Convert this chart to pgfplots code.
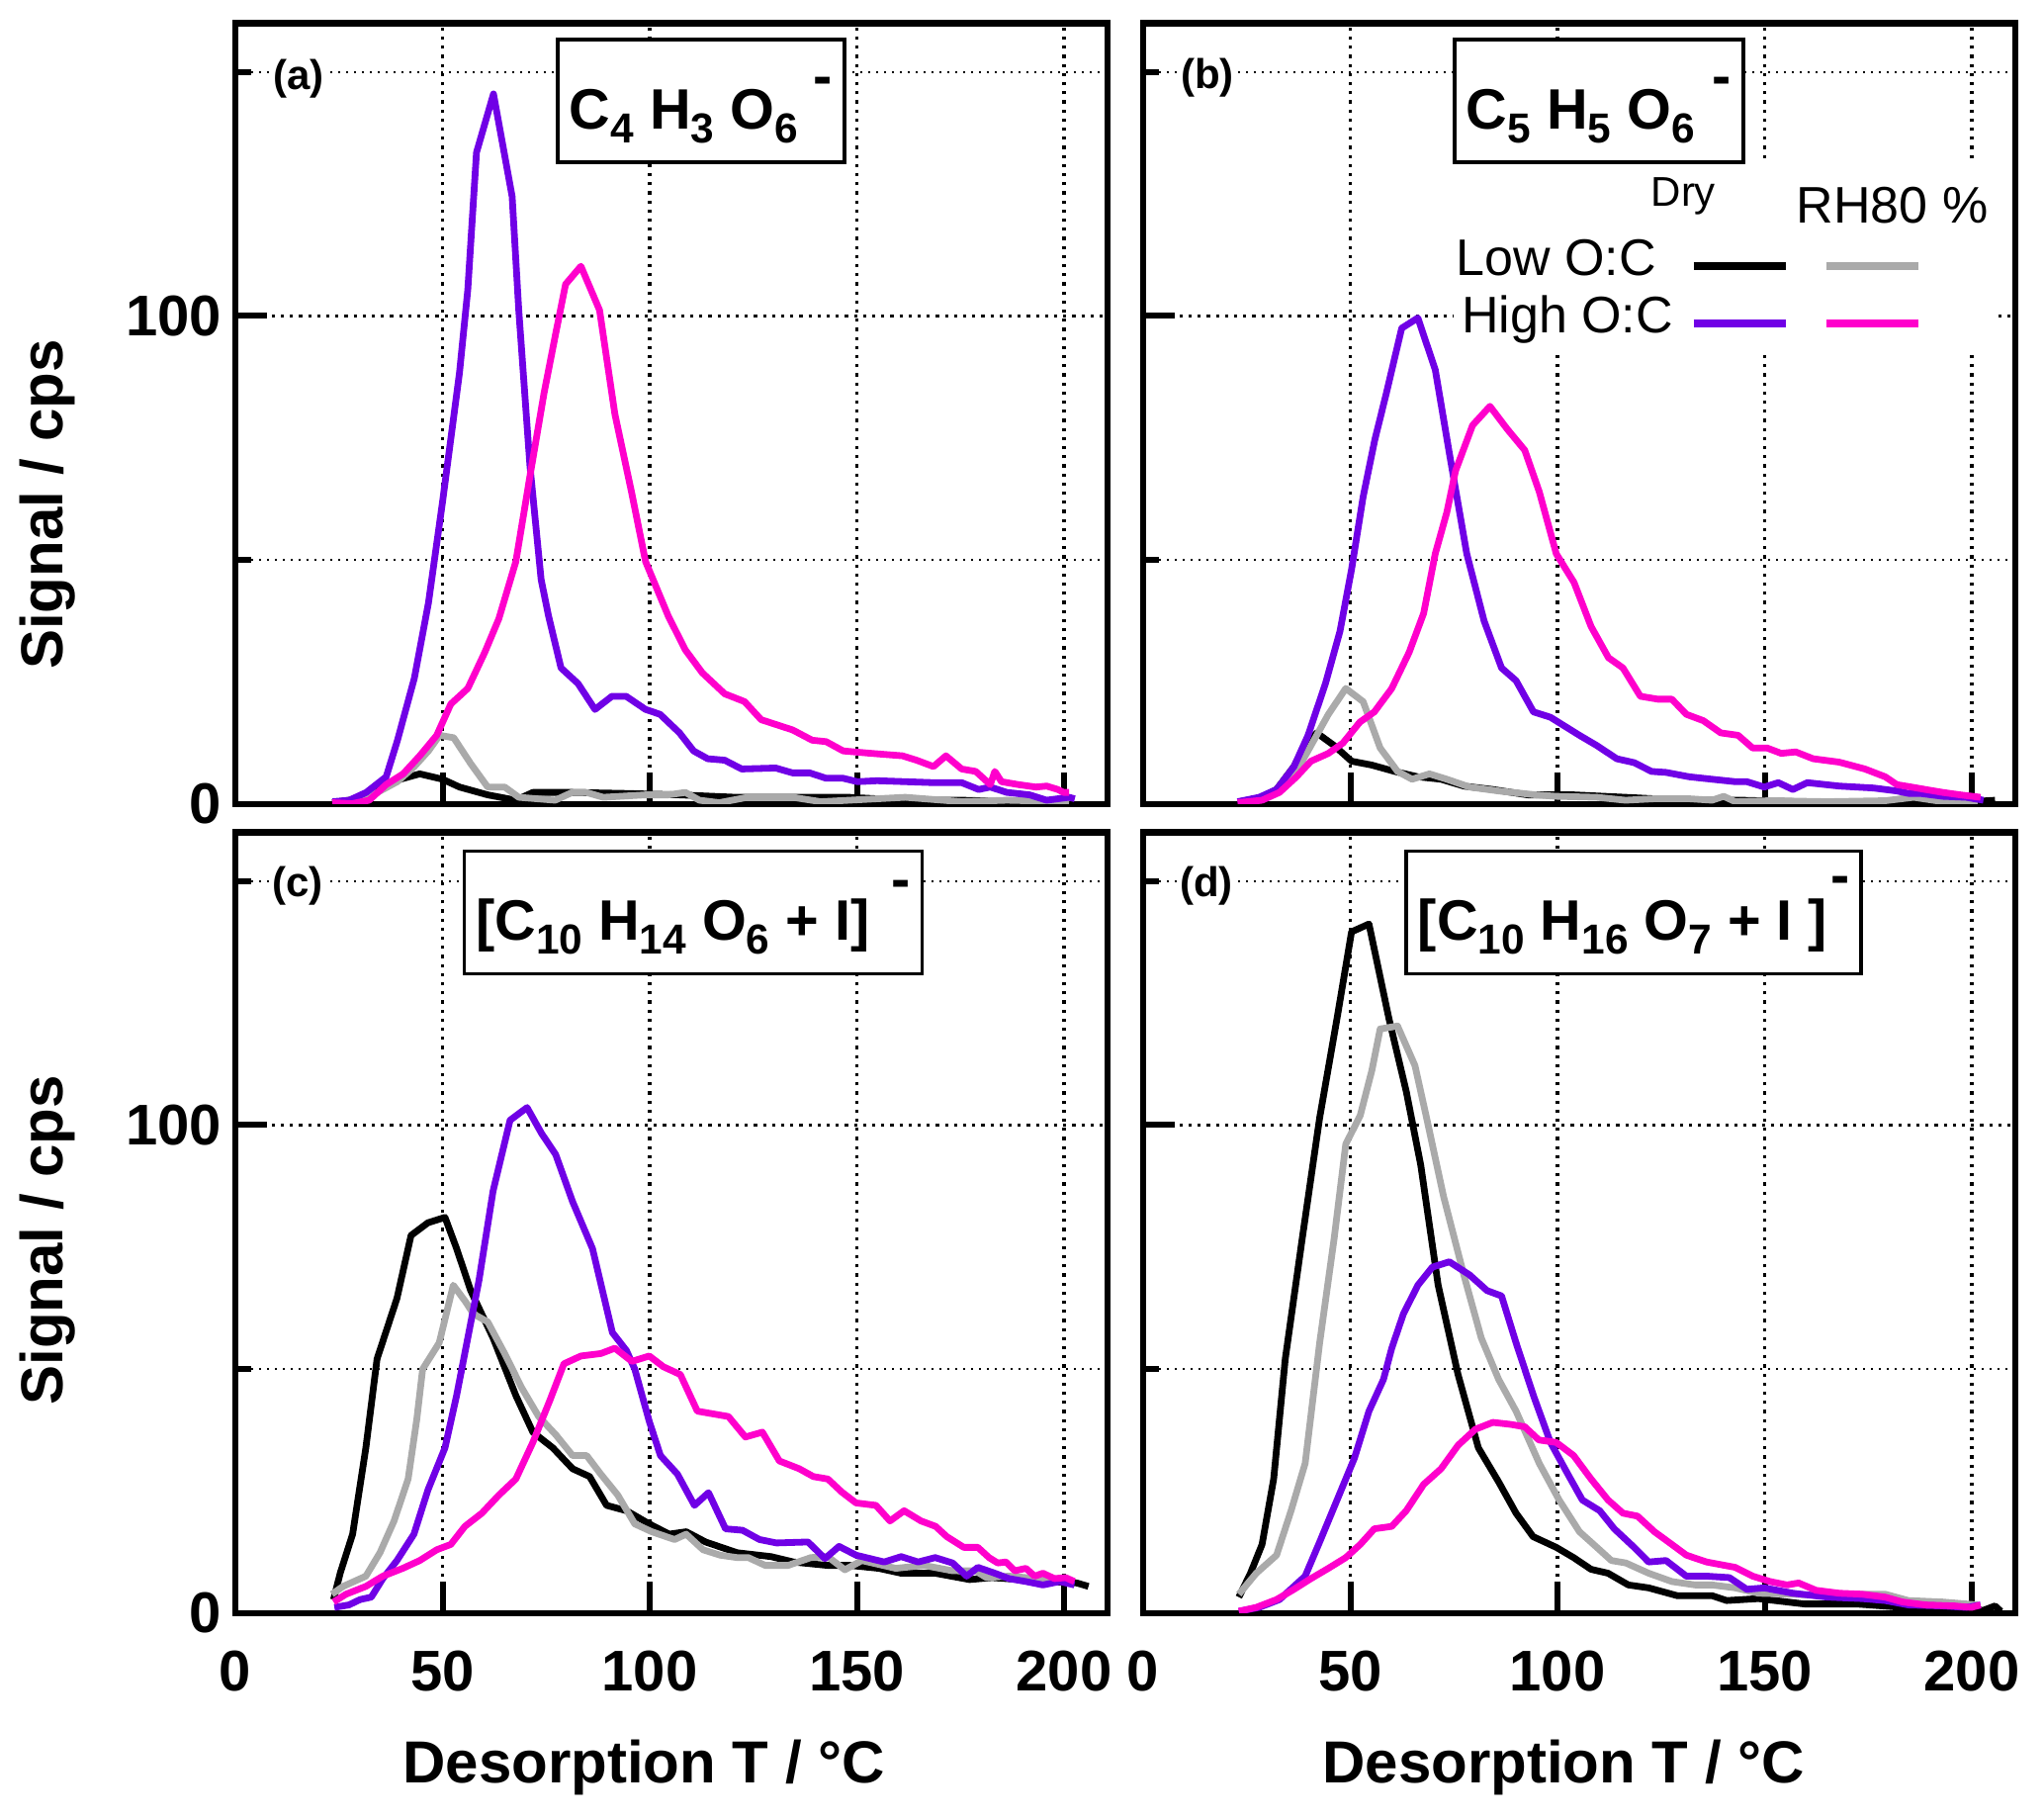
\documentclass[border=0pt]{standalone}
\usepackage{pgfplots}
\pgfplotsset{compat=1.18}
\usepackage{fontspec}
\setmainfont{Liberation Sans}
\definecolor{cpur}{RGB}{112,0,230}
\definecolor{cmag}{RGB}{255,0,204}
\definecolor{cgry}{RGB}{170,170,170}
\newcommand{\sbs}[1]{\raisebox{-3.6pt}{\fontsize{10.6}{12}\selectfont #1}}
\newcommand{\chg}[2]{\hspace{#1}\raisebox{#2}{-}}
\newcommand{\tstrut}{\rule[-8.5pt]{0pt}{31pt}}
\pgfplotsset{
  panel/.style={
    scale only axis, width=220.5pt, height=197.4pt,
    xmin=0, xmax=210.5, ymin=0, ymax=160,
    xtick={0,50,100,150,200}, ytick={0,100}, minor ytick={50,150},
    tick pos=left, tick align=inside,
    major tick length=8pt, minor tick length=4pt,
    tick style={black, line width=1.5pt},
    axis line style={black, line width=1.6pt},
    grid=both,
    major grid style={black, line width=0.8pt, dash pattern=on 0.8pt off 1.5pt},
    minor grid style={black, line width=0.5pt, dash pattern=on 0.6pt off 1.4pt},
    /pgf/number format/assume math mode=true,
    ticklabel style={font=\bfseries\fontsize{14.5}{15}\selectfont},
    xticklabel style={anchor=center, yshift=-14.75pt},
    label style={font=\bfseries\fontsize{15}{16}\selectfont},
    every axis plot/.append style={line width=1.7pt, line join=round},
  },
}
\tikzset{
  titlebox/.style={draw=black, line width=0.9pt, fill=white, inner xsep=3pt, inner ysep=0pt,
    font=\bfseries\fontsize{14.4}{16}\selectfont, anchor=center},
  plab/.style={font=\bfseries\fontsize{10.5}{11}\selectfont, fill=white, inner sep=0.5pt},
}
\begin{document}
\begin{tikzpicture}
\path[use as bounding box] (0,0) rectangle (516.75pt,459.75pt);

% ---------------- (a)
\begin{axis}[panel, at={(59.5pt,256.5pt)}, anchor=south west, xticklabels={},
  ylabel={Signal / cps}, ylabel style={at={(axis description cs:-0.2154,0.3837)}, anchor=center}]
\addplot[black] coordinates {(23.4,0.3)(32.3,1.4)(37.7,4.6)(44.5,6.2)(50,5.1)(54.1,3.5)(60.9,1.9)(67.7,0.8)(71.8,2.4)(81.3,2.4)(93.6,2.2)(107.2,1.9)(120.8,1.4)(134.5,1.4)(148.1,1.4)(161.7,0.8)(175.3,0.8)(188.9,0.5)(201.2,0.5)};
\addplot[cgry] coordinates {(23.4,0.3)(29.6,0.8)(34.3,2.4)(39.1,4.6)(43.2,7.7)(46.6,10.9)(49.3,14.1)(52.7,13.6)(56.8,8.3)(60.9,3.5)(65,3.5)(68.4,1.4)(77.2,0.8)(81.3,2.4)(84.7,2.4)(88.8,1.4)(99,1.9)(104.5,1.9)(108.6,2.4)(112,0.8)(116.8,0.3)(123.6,1.4)(134.5,1.4)(141.3,0.5)(148.1,0.8)(161.7,1.4)(175.3,0.5)(186.2,0.8)(201.2,0.5)};
\addplot[cpur] coordinates {(23.4,0.5)(27.5,0.8)(31.6,2.4)(36.4,5.6)(39.1,13)(43.2,25.8)(46.6,41.2)(50,61.9)(54.1,88.4)(56.1,105.4)(58.2,133.5)(62.3,145.5)(66.8,124.5)(68.4,101.2)(71.1,69.3)(73.8,46)(75.6,38.5)(78.6,27.9)(82.7,24.7)(86.8,19.4)(90.9,22.1)(94.3,22.1)(99,19.4)(102.5,18.4)(107.2,14.6)(110.6,10.9)(114,9.3)(118.1,9)(122.2,7.2)(130.4,7.4)(134.5,6.4)(138.6,6.4)(142.6,5.3)(146.7,5.3)(150.1,4.6)(154.9,4.8)(161.7,4.6)(168.5,4.4)(175.3,4.4)(179.4,3)(182.2,3.5)(186.2,2.4)(191.7,1.9)(195.8,0.8)(201.2,1.4)(202.6,1.1)};
\addplot[cmag] coordinates {(23.4,0.3)(28.2,0.1)(32.3,0.8)(36.4,4)(40.5,6.2)(44.5,9.9)(48.6,14.1)(52,20.5)(56.1,23.7)(60.2,31.1)(63.6,38)(67.7,49.7)(71.1,67.2)(74.5,84.2)(77.2,95.9)(79.7,106.5)(83.4,110.2)(87.9,101.2)(91.6,79.9)(95.6,64)(99,49.7)(104.5,38.5)(108.6,31.6)(112.7,26.9)(118.1,22.6)(122.9,21)(126.9,17.3)(134.5,15.2)(139.2,13.1)(142.6,12.8)(146.7,10.9)(153.5,10.4)(161,9.9)(164.4,9)(168.5,7.7)(171.5,9.9)(175.3,7.2)(178.7,6.7)(182.2,4)(183.3,6.7)(184.9,4.6)(189,4)(193.2,3.5)(195.8,3.7)(198.5,3)(199.9,2.4)(201.2,2.4)};
\node[plab] at (axis cs:15.2,148.6) {(a)};
\node[titlebox] at (axis cs:112.4,144.05) {\tstrut C\sbs{4} H\sbs{3} O\sbs{6}\chg{4pt}{8.3pt}};
\end{axis}

% ---------------- (b)
\begin{axis}[panel, at={(289pt,256.5pt)}, anchor=south west, xticklabels={}, yticklabels={}]
\fill[white] (axis cs:75,92.6) rectangle (axis cs:205.5,131.5);
\addplot[black] coordinates {(23.1,0.3)(28,1.1)(32.2,3)(36.4,7.7)(39.1,12)(41.9,14.6)(46.1,12)(50.3,8.8)(55.2,8)(60.7,6.7)(66.3,5.6)(71.9,5.1)(77.4,3.7)(84.4,3)(92.8,1.9)(103.9,1.9)(116.4,1.4)(130.4,0.8)(144.3,0.8)(158.2,0.5)(172.1,0.5)(186,0.5)(200,0.5)(205.6,0.8)};
\addplot[cgry] coordinates {(23.1,0.3)(28,0.8)(32.9,3)(37,6.7)(40.5,12)(44.7,18.4)(48.9,23.7)(53.1,21)(57.2,11.5)(61.4,6.7)(64.9,5.1)(69.1,6.2)(73.3,5.1)(78.8,3.5)(85.8,2.7)(94.8,1.9)(99.7,1.6)(109.5,1.4)(116.4,0.8)(123.4,1.1)(131.8,1.1)(137.3,0.8)(140.1,1.6)(142.9,0.5)(151.3,0.7)(165.2,0.5)(179.1,0.7)(186,1.4)(193,0.5)(201.4,0.5)};
\addplot[cpur] coordinates {(22.8,0.5)(28,1.4)(32.2,3)(36.4,7.7)(39.8,14.1)(44,24.7)(47.5,35.4)(50.3,48.1)(53.1,63)(55.9,74.6)(58.7,84.2)(62.4,97.5)(66.3,99.6)(70.5,89)(74,71.4)(78.1,51.3)(82.3,37.5)(86.5,27.9)(90,25.3)(94.2,18.9)(98.3,17.8)(105.3,14.1)(109.5,12)(114.3,9.3)(118.5,8.5)(122.7,6.7)(126.2,6.5)(131.8,5.6)(137.3,5.1)(142.9,4.6)(145.7,4.6)(149.9,3.5)(153.3,4.4)(156.8,3)(160.3,4.4)(168,3.7)(176.3,3.3)(181.9,2.7)(184.7,2.2)(187.5,2.2)(193,1.6)(198.6,1.4)(202.8,0.8)};
\addplot[cmag] coordinates {(22.8,0.3)(28.7,0.8)(32.9,2.4)(37,5.6)(40.5,8.8)(44.7,10.4)(48.2,12.5)(52.3,16.8)(55.8,18.9)(60,23.7)(64.2,31.1)(67.7,39.1)(70.5,51.3)(73.3,59.8)(75.4,68.3)(79.5,77.6)(83.7,81.5)(87.9,76.8)(92.1,72.5)(95.6,64)(99.7,51.3)(104,45.4)(108.1,36.4)(112.3,30)(115.8,27.9)(120,22.1)(124.2,21.5)(127.6,21.5)(131.1,18.4)(135.2,17.1)(139.4,14.6)(143.6,14.1)(147.1,11.5)(150.6,11.5)(154,10.4)(157.5,10.7)(161.7,9.3)(168,8.6)(174.2,7.2)(179.1,5.6)(181.9,4)(185.4,3.5)(188.8,3)(193,2.4)(197.2,1.9)(202.1,1.4)};
% legend
\addplot[black, line width=1.9pt, forget plot] coordinates {(132.9,110.2)(155.2,110.2)};
\addplot[cgry, line width=1.9pt, forget plot] coordinates {(164.9,110.2)(187.2,110.2)};
\addplot[cpur, line width=1.9pt, forget plot] coordinates {(132.9,98.5)(155.2,98.5)};
\addplot[cmag, line width=1.9pt, forget plot] coordinates {(164.9,98.5)(187.2,98.5)};
\node[anchor=base west, inner sep=0pt, font=\fontsize{10.5}{11}\selectfont] at (axis cs:122.4,122.4) {Dry};
\node[anchor=base west, inner sep=0pt, font=\fontsize{13}{14}\selectfont] at (axis cs:157.5,119) {RH80 \%};
\node[anchor=base west, inner sep=0pt, font=\fontsize{13}{14}\selectfont] at (axis cs:75.3,108.3) {Low O:C};
\node[anchor=base west, inner sep=0pt, font=\fontsize{13}{14}\selectfont] at (axis cs:76.7,96.6) {High O:C};
\node[plab] at (axis cs:15.5,148.9) {(b)};
\node[titlebox] at (axis cs:110,144.05) {\tstrut C\sbs{5} H\sbs{5} O\sbs{6}\chg{4.5pt}{8.3pt}};
\end{axis}

% ---------------- (c)
\begin{axis}[panel, at={(59.5pt,52pt)}, anchor=south west,
  ylabel={Signal / cps}, ylabel style={at={(axis description cs:-0.2154,0.4775)}, anchor=center},
  xlabel={Desorption T / °C}, xlabel style={at={(axis description cs:0.4683,-0.1976)}, anchor=center}]
\addplot[black] coordinates {(23.7,2.8)(25.3,8.2)(28.3,16.2)(31.5,33.9)(34.2,52.1)(39,64.5)(42.4,77.4)(46.5,80)(50.6,81.1)(53.4,74.7)(56.8,66.1)(62.2,56.4)(67.7,44.6)(71.8,37.1)(76.6,33.9)(81.4,29.6)(85.5,28)(89.6,22.1)(94.4,21)(99.9,18.3)(104.7,16.2)(108.8,16.7)(113.5,14.6)(121.1,12.4)(129.3,11.6)(134.7,10.5)(142.9,9.8)(148.4,9.8)(155.3,9.2)(160.7,8.2)(168.9,8.2)(177.2,6.9)(182.6,7.3)(189.5,6.9)(196.3,6.5)(203.1,6.2)(205.9,5.5)};
\addplot[cgry] coordinates {(23.3,3.9)(26,5.5)(31.5,7.6)(34.9,12.4)(38.3,18.9)(41.7,27.5)(43.8,39.8)(45.2,50)(49.2,55.4)(52.6,67.2)(55.4,64)(57.5,61.3)(60.9,59.7)(65,53.2)(69.1,46.2)(73.2,40.3)(77.3,36.6)(81.4,32.3)(84.8,32.3)(88.2,28.5)(92.3,24.2)(96.4,18.3)(100.5,16.7)(106,15.1)(108.8,16.2)(112.9,13)(117,11.9)(121.1,11.4)(123.8,11.4)(127.9,9.8)(133.4,9.8)(138.9,11.4)(143,11.6)(147.1,8.9)(151.2,10.8)(159.4,9.2)(166.2,9.8)(173.1,8.7)(178.6,8.7)(181.3,7.3)(186.7,7.6)(193.6,7.1)(200.5,6.5)};
\addplot[cpur] coordinates {(23.9,1.2)(27.4,1.7)(30.1,2.8)(32.8,3.3)(35.6,7.1)(39,10.8)(43.1,16.2)(46.5,25.3)(50.6,33.9)(53.4,44.6)(56.1,56.4)(58.8,68.2)(62.2,86.5)(66.3,101)(70.4,103.6)(73.9,98.3)(77.3,94)(81.4,84.3)(86.2,74.7)(91,57.5)(94.4,53.8)(96.4,50)(99.9,39.3)(102.6,32.3)(106.7,28.5)(110.8,22.1)(114.2,24.7)(118.3,17.3)(122.4,17)(126.5,15.1)(130.6,14.4)(138.2,14.6)(142.3,11.2)(145.7,13.7)(149.8,11.9)(156.6,10.5)(160.7,11.6)(164.8,10.5)(168.9,11.4)(173.1,10.3)(176.5,7.6)(179.2,9.4)(183.3,8.2)(186.7,7.1)(190.8,6.5)(194.9,5.8)(199,6.5)(202.5,5.8)};
\addplot[cmag] coordinates {(23.7,2.3)(26.7,3.9)(31.5,5.5)(35.6,7.6)(40.4,9.2)(44.5,10.8)(48.6,13)(52,14.1)(55.4,17.8)(59.5,20.5)(63.6,24.2)(67.7,27.5)(71.8,35)(75.9,43.6)(79.3,51.1)(83.4,52.7)(88.2,53.2)(91.6,54.3)(95.7,51.6)(99.9,52.7)(103.3,50.5)(107.4,48.9)(111.5,41.4)(119,40.3)(123.1,36.1)(127.2,37.1)(131.3,31.2)(136.1,29.6)(139.5,28)(143,27.5)(146.4,24.8)(149.8,22.6)(154.6,22.1)(158,18.9)(161.4,21)(165.5,18.9)(169,17.8)(171.7,15.7)(175.8,13.5)(179.2,13.5)(181.9,11.4)(184,10.3)(186,10.5)(188.1,8.7)(190.8,9.2)(192.9,7.6)(194.9,8.2)(197.7,7.1)(200.4,7.3)(202.5,6.5)};
\node[plab] at (axis cs:15,149) {(c)};
\node[titlebox] at (axis cs:110.5,143.6) {\tstrut [C\sbs{10} H\sbs{14} O\sbs{6} + I]\chg{5.5pt}{10.5pt}};
\end{axis}

% ---------------- (d)
\begin{axis}[panel, at={(289pt,52pt)}, anchor=south west, yticklabels={},
  xlabel={Desorption T / °C}, xlabel style={at={(axis description cs:0.4819,-0.1976)}, anchor=center}]
\addplot[black] coordinates {(23.1,3.3)(25.9,8.2)(28.7,14.1)(31.5,27.5)(34.3,52.1)(38.4,76.8)(42.6,101.5)(46.8,121.9)(50.3,139.6)(54.5,141.2)(59.3,121.9)(63.5,106.9)(67,91.8)(71.2,67.2)(76,48.9)(80.9,33.9)(85.8,26.9)(90,20.5)(94.1,15.7)(99.7,13.5)(103.9,11.4)(108.1,9)(112.2,8.2)(117.1,5.8)(122,5.2)(128.9,3.6)(137.3,3.6)(140.8,2.6)(148.5,3)(159.6,1.9)(172.1,1.9)(183.3,1.2)(193,1.2)(202.8,0.6)(205.6,1.5)(207,0.4)};
\addplot[cgry] coordinates {(23.1,3.9)(27.3,8.2)(32.2,11.9)(35.7,21)(39.1,30.7)(42.6,55.4)(46.1,76.8)(48.9,96.1)(52.4,102)(55.2,111.2)(57.2,119.7)(61.4,120.3)(65.6,112.2)(68.4,101.5)(72.5,85.4)(77.4,69.3)(81.6,56.4)(85.8,47.9)(90,41.4)(95.6,30.7)(100.4,23.2)(105.3,16.7)(109.5,13.5)(113,10.8)(116.5,10.3)(122,8.2)(127.6,6.5)(133.2,5.8)(137.3,5.8)(142.9,5.2)(148.5,4.1)(156.8,3.9)(165.2,3.6)(173.5,3.9)(179.1,3.9)(184.7,2.6)(193,2.3)(201.4,1.7)};
\addplot[cpur] coordinates {(23.1,0.4)(28,1.2)(32.9,2.8)(39.1,7.6)(42.6,14.6)(46.8,23.2)(51,31.8)(54.5,41.4)(58,47.9)(60,54.3)(62.8,61.3)(66.3,67.2)(69.8,70.9)(73.9,72)(78.8,69.3)(83,66.1)(86.5,65)(90,55.4)(94.2,44.6)(98.3,35)(102.5,28.5)(106,23.2)(110.2,21)(113.7,17.3)(118.5,13.5)(122,10.5)(126.2,10.8)(131.1,7.6)(136,7.6)(141.5,7.3)(145.7,4.9)(149.9,5.2)(156.8,4.1)(165.2,3.3)(173.5,3)(179.1,2.6)(184.7,1.7)(193,1.5)(198.6,1.2)(202.1,1.7)};
\addplot[cmag] coordinates {(23.1,0.4)(27.3,1.2)(32.2,2.8)(36.4,4.9)(40.5,7.1)(44.7,9.2)(48.9,11.4)(52.4,14.1)(55.8,17.3)(60,17.8)(63.5,21)(67.7,26.4)(71.9,29.6)(76,34.4)(80.2,37.7)(84.4,39.1)(88.6,38.7)(92.1,38.2)(95.5,35.5)(99.7,35)(103.9,32.3)(108.1,27.5)(112.2,23.2)(115.8,20.5)(119.3,19.9)(123.4,16.7)(127.6,14.1)(131.1,11.9)(136,10.5)(142.9,9.4)(147.1,7.6)(151.3,6.5)(155.4,5.8)(158.2,6.2)(162.4,4.7)(168,4.1)(173.5,3.9)(179.1,3.3)(183.3,2.3)(188.9,1.7)(195.8,1.5)(199.9,1.2)(202.1,1.7)};
\node[plab] at (axis cs:15.3,149) {(d)};
\node[titlebox] at (axis cs:118.4,143.6) {\tstrut [C\sbs{10} H\sbs{16} O\sbs{7} + I ]\chg{0.8pt}{11.4pt}};
\end{axis}
\end{tikzpicture}
\end{document}
